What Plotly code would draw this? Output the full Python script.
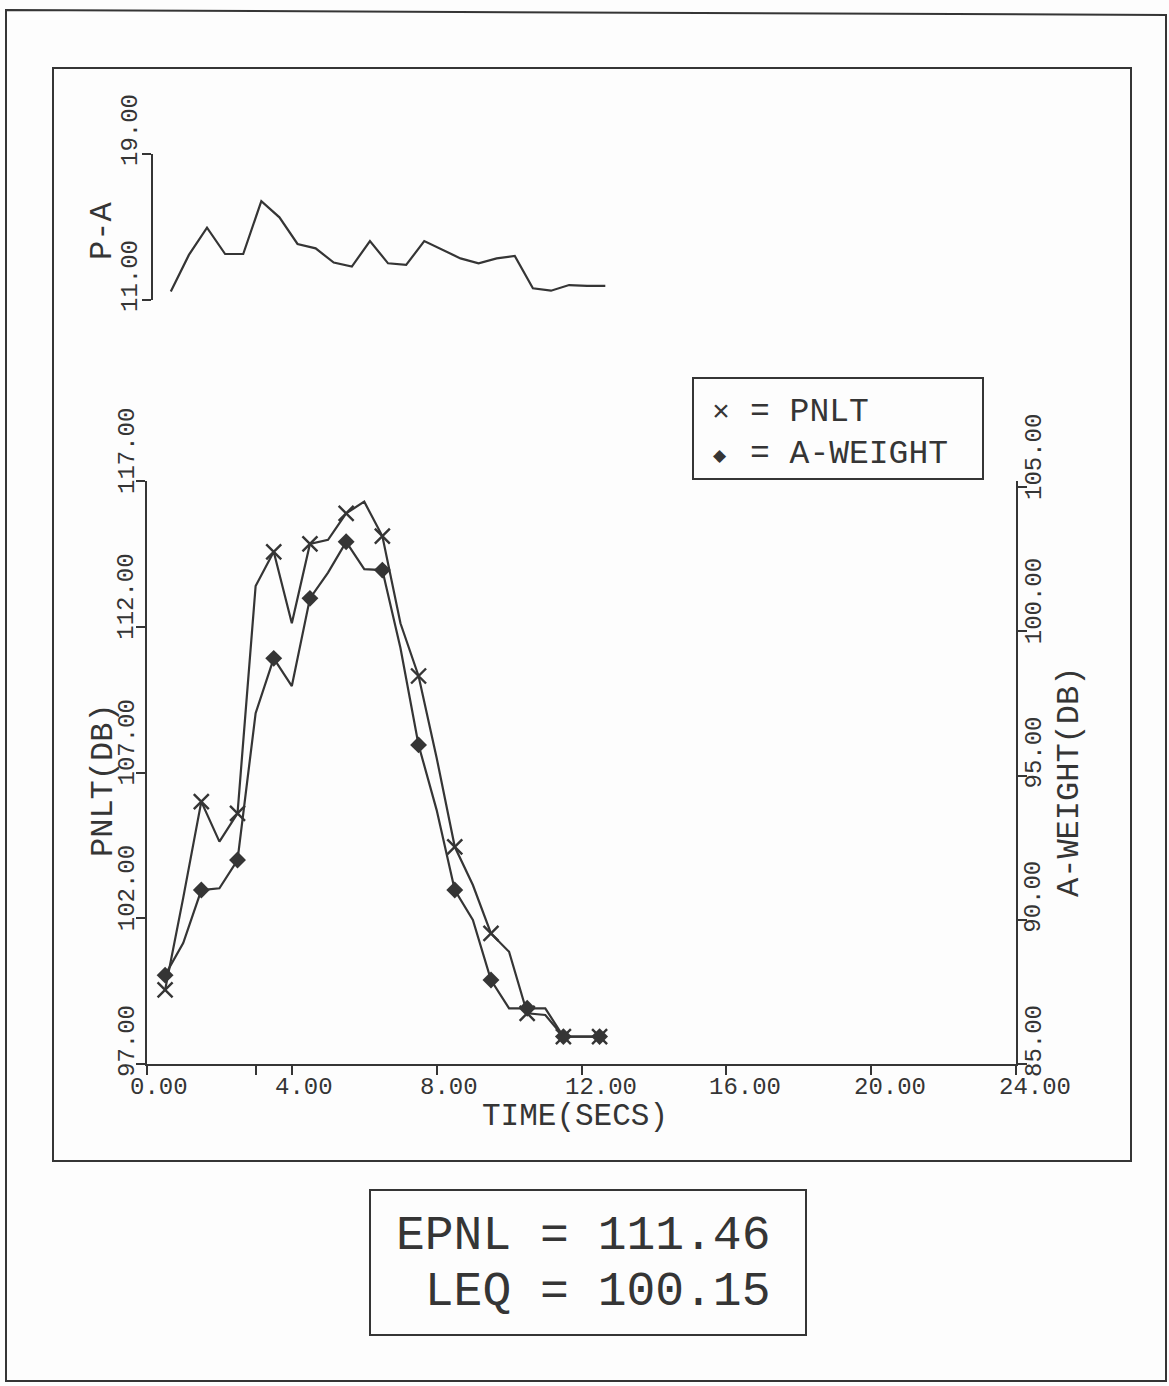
import plotly.graph_objects as go

# ---- data -------------------------------------------------------------
TIME = [0.5, 1.0, 1.5, 2.0, 2.5, 3.0, 3.5, 4.0, 4.5, 5.0, 5.5, 6.0, 6.5,
        7.0, 7.5, 8.0, 8.5, 9.0, 9.5, 10.0, 10.5, 11.0, 11.5, 12.0, 12.5]

PNLT = [99.54, 102.70, 106.00, 104.63, 105.60, 113.40, 114.57, 112.12,
        114.84, 114.98, 115.89, 116.29, 115.11, 112.12, 110.31, 107.50,
        104.45, 103.14, 101.48, 100.85, 98.74, 98.68, 97.94, 97.94, 97.94]

A_WEIGHT = [88.08, 89.19, 91.03, 91.09, 92.07, 97.16, 99.06, 98.10,
            101.14, 102.03, 103.10, 102.15, 102.12, 99.42, 96.06, 93.80,
            91.03, 89.99, 87.91, 86.93, 86.93, 86.93, 85.95, 85.95, 85.95]

P_MINUS_A = [11.46, 13.47, 14.96, 13.52, 13.52, 16.42, 15.53, 14.07,
             13.83, 13.05, 12.83, 14.23, 13.01, 12.92, 14.23, 13.74,
             13.28, 13.01, 13.28, 13.41, 11.64, 11.51, 11.82, 11.77, 11.77]

X_TICKS = [0, 4, 8, 12, 16, 20, 24]
X_TICK_TEXT = ["0.00", "4.00", "8.00", "12.00", "16.00", "20.00", "24.00"]
PNLT_TICKS = [97, 102, 107, 112, 117]
PNLT_TICK_TEXT = ["97.00", "102.00", "107.00", "112.00", "117.00"]
AW_TICKS = [85, 90, 95, 100, 105]
AW_TICK_TEXT = ["85.00", "90.00", "95.00", "100.00", "105.00"]
PA_TICKS = [11, 19]
PA_TICK_TEXT = ["11.00", "19.00"]

EPNL = 111.46
LEQ = 100.15

# ---- page geometry (pixels) ------------------------------------------
W, H = 1169, 1386
INK = "#353535"
FONT = "Liberation Mono"


def px(x):
    return x / W


def py(y):
    return 1 - y / H


fig = go.Figure()

# PNLT: line through every half-second, markers on whole-second offsets
fig.add_trace(go.Scatter(x=TIME, y=PNLT, mode="lines", xaxis="x", yaxis="y",
                         line=dict(color=INK, width=2.2), showlegend=False))
fig.add_trace(go.Scatter(x=TIME[::2], y=PNLT[::2], mode="markers",
                         xaxis="x", yaxis="y", showlegend=False,
                         marker=dict(symbol="x-thin", size=15,
                                     line=dict(color=INK, width=2.4))))

# A-weighted level on the right-hand axis
fig.add_trace(go.Scatter(x=TIME, y=A_WEIGHT, mode="lines", xaxis="x", yaxis="y2",
                         line=dict(color=INK, width=2.2), showlegend=False))
fig.add_trace(go.Scatter(x=TIME[::2], y=A_WEIGHT[::2], mode="markers",
                         xaxis="x", yaxis="y2", showlegend=False,
                         marker=dict(symbol="diamond", size=13, color=INK,
                                     line=dict(width=0))))

# P-A difference panel
fig.add_trace(go.Scatter(x=TIME, y=P_MINUS_A, mode="lines", xaxis="x3", yaxis="y3",
                         line=dict(color=INK, width=2.2), showlegend=False))

axis_common = dict(showgrid=False, zeroline=False, showline=True, linecolor=INK,
                   linewidth=2, ticks="outside", ticklen=9, tickwidth=2,
                   tickcolor=INK, showticklabels=False)

fig.update_layout(
    width=W, height=H, autosize=False,
    margin=dict(l=0, r=0, t=0, b=0, pad=0),
    paper_bgcolor="#fdfdfd", plot_bgcolor="rgba(0,0,0,0)",
    font=dict(family=FONT, color=INK),
    xaxis=dict(domain=[px(147), px(1016)], range=[0, 24], anchor="y",
               tickvals=[0, 3, 4, 8, 12, 16, 20, 24], **axis_common),
    yaxis=dict(domain=[py(1064), py(481)], range=[97, 117], anchor="x",
               side="left", tickvals=PNLT_TICKS, **axis_common),
    yaxis2=dict(overlaying="y", side="right", anchor="x",
                range=[85, 85 + 20 * (1064 - 481) / (1064 - 487)],
                tickvals=AW_TICKS, **axis_common),
    xaxis3=dict(domain=[px(152.7), px(152.7 + 869)], range=[0, 24],
                anchor="y3", visible=False),
    yaxis3=dict(domain=[py(300), py(154)], range=[11, 19], anchor="x3",
                side="left", tickvals=PA_TICKS, **axis_common),
)

ann = []

# x tick labels
for v, t in zip(X_TICKS, X_TICK_TEXT):
    ann.append(dict(x=v, xref="x", y=py(1087), yref="paper", text=t,
                    xanchor="left", yanchor="middle", xshift=-19, showarrow=False,
                    font=dict(size=24, family=FONT, color=INK)))

# rotated y tick labels, reading upward from each tick
for v, t in zip(PNLT_TICKS, PNLT_TICK_TEXT):
    ann.append(dict(x=px(127), xref="paper", y=v, yref="y", text=t, textangle=-90,
                    xanchor="center", yanchor="bottom", yshift=-15, showarrow=False,
                    font=dict(size=24, family=FONT, color=INK)))
for v, t in zip(AW_TICKS, AW_TICK_TEXT):
    ann.append(dict(x=px(1034), xref="paper", y=v, yref="y2", text=t, textangle=-90,
                    xanchor="center", yanchor="bottom", yshift=-15, showarrow=False,
                    font=dict(size=24, family=FONT, color=INK)))
for v, t in zip(PA_TICKS, PA_TICK_TEXT):
    ann.append(dict(x=px(130), xref="paper", y=v, yref="y3", text=t, textangle=-90,
                    xanchor="center", yanchor="bottom", yshift=-14, showarrow=False,
                    font=dict(size=24, family=FONT, color=INK)))

# axis titles
ann.append(dict(x=px(575), y=py(1116), xref="paper", yref="paper", text="TIME(SECS)",
                showarrow=False, xanchor="center", yanchor="middle",
                font=dict(size=31, family=FONT, color=INK)))
ann.append(dict(x=px(103), y=py(780), xref="paper", yref="paper", text="PNLT(DB)",
                textangle=-90, showarrow=False, xanchor="center", yanchor="middle",
                font=dict(size=32, family=FONT, color=INK)))
ann.append(dict(x=px(1070), y=py(782), xref="paper", yref="paper", text="A-WEIGHT(DB)",
                textangle=-90, showarrow=False, xanchor="center", yanchor="middle",
                font=dict(size=32, family=FONT, color=INK)))
ann.append(dict(x=px(103), y=py(231), xref="paper", yref="paper", text="P-A",
                textangle=-90, showarrow=False, xanchor="center", yanchor="middle",
                font=dict(size=32, family=FONT, color=INK)))

# key box
ann.append(dict(x=px(721), y=py(413), xref="paper", yref="paper", text="×",
                showarrow=False, xanchor="center", yanchor="middle",
                font=dict(size=30, family=FONT, color=INK)))
ann.append(dict(x=px(720), y=py(455), xref="paper", yref="paper", text="◆",
                showarrow=False, xanchor="center", yanchor="middle",
                font=dict(size=17, family="DejaVu Sans", color=INK)))
ann.append(dict(x=px(748), y=py(412), xref="paper", yref="paper",
                text="=\u00a0PNLT", showarrow=False, xanchor="left", yanchor="middle",
                font=dict(size=33, family=FONT, color=INK)))
ann.append(dict(x=px(748), y=py(454), xref="paper", yref="paper",
                text="=\u00a0A-WEIGHT", showarrow=False, xanchor="left", yanchor="middle",
                font=dict(size=33, family=FONT, color=INK)))

# summary box
ann.append(dict(x=px(394), y=py(1236), xref="paper", yref="paper",
                text=f"EPNL\u00a0=\u00a0{EPNL:.2f}", showarrow=False,
                xanchor="left", yanchor="middle",
                font=dict(size=48, family=FONT, color=INK)))
ann.append(dict(x=px(394), y=py(1292), xref="paper", yref="paper",
                text=f"\u00a0LEQ\u00a0=\u00a0{LEQ:.2f}", showarrow=False,
                xanchor="left", yanchor="middle",
                font=dict(size=48, family=FONT, color=INK)))

fig.update_layout(annotations=ann)


def rect(x0, y0, x1, y1, width=2):
    return dict(type="rect", xref="paper", yref="paper",
                x0=px(x0), x1=px(x1), y0=py(y1), y1=py(y0),
                line=dict(color=INK, width=width), fillcolor="rgba(0,0,0,0)")


fig.update_layout(shapes=[
    # outer page frame
    dict(type="path", xref="paper", yref="paper",
         path=f"M {px(6)},{py(10)} L {px(1166)},{py(15)} L {px(1166)},{py(1381)} "
              f"L {px(6)},{py(1381)} Z",
         line=dict(color=INK, width=2)),
    # plot frame
    rect(53, 68, 1131, 1161, 2),
    # key box
    rect(693, 378, 983, 479, 2),
    # summary box
    rect(370, 1190, 806, 1335, 2),
])

fig.write_html("out.html")
